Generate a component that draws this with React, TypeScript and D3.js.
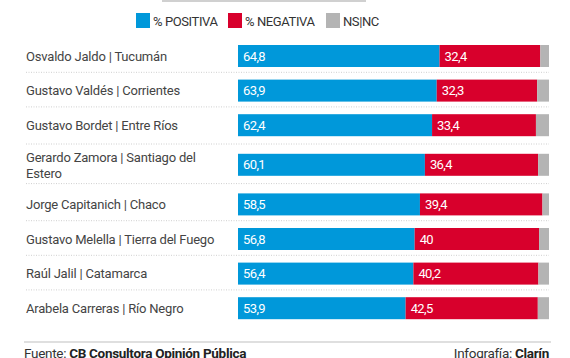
import React from "react";
import * as d3 from "d3";

const names = [
  ["Osvaldo Jaldo | Tucumán"],
  ["Gustavo Valdés | Corrientes"],
  ["Gustavo Bordet | Entre Ríos"],
  ["Gerardo Zamora | Santiago del", "Estero"],
  ["Jorge Capitanich | Chaco"],
  ["Gustavo Melella | Tierra del Fuego"],
  ["Raúl Jalil | Catamarca"],
  ["Arabela Carreras | Río Negro"],
];
const positiva = [64.8, 63.9, 62.4, 60.1, 58.5, 56.8, 56.4, 53.9];
const negativa = [32.4, 32.3, 33.4, 36.4, 39.4, 40, 40.2, 42.5];
const nsnc = [2.8, 3.8, 4.2, 3.5, 2.1, 3.2, 3.4, 3.6];
const legendLabels = ["% POSITIVA", "% NEGATIVA", "NS|NC"];

const BLUE = "#0098da";
const RED = "#d8002c";
const GRAY = "#b4b4b4";
const colors = [BLUE, RED, GRAY];
const FONT = "Roboto, 'Liberation Sans', sans-serif";

export default function App() {
  const W = 570, H = 358;
  const x = d3.scaleLinear().domain([0, 100]).range([238, 549]);
  const barH = 22;
  const tops: number[] = [];
  let y = 45;
  names.forEach((n, i) => {
    if (i > 0) {
      const extraPrev = names[i - 1].length > 1 ? 5 : 0;
      const extraCur = n.length > 1 ? 5 : 0;
      y += 34.6 + extraPrev + extraCur;
    }
    tops.push(y);
  });
  const fmt = (v: number) => String(v).replace(".", ",");
  const legendX = [136, 228, 326];
  return (
    <svg width={W} height={H} style={{ position: "absolute", left: 0, top: 0, background: "#fff" }} fontFamily={FONT}>
      <rect x={162} y={0} width={204} height={2} fill="#d0d0d0" />
      {legendLabels.map((l, i) => (
        <g key={l}>
          <rect x={legendX[i]} y={13} width={14} height={15} fill={colors[i]} />
          <text x={legendX[i] + 17} y={25.5} fontSize={13} fill="#333" letterSpacing={-0.4}>{l}</text>
        </g>
      ))}
      {names.map((n, i) => {
        const t = tops[i];
        const cy = t + barH / 2;
        const sepY = i < names.length - 1 ? (t + barH + tops[i + 1]) / 2 - 1 : null;
        const p0 = 0, p1 = positiva[i], n1 = positiva[i] + negativa[i], g1 = n1 + nsnc[i];
        return (
          <g key={i}>
            {n.length === 1 ? (
              <text x={26} y={cy + 4.5} fontSize={13} fill="#444" letterSpacing={-0.2}>{n[0]}</text>
            ) : (
              <>
                <text x={26} y={cy - 3} fontSize={13} fill="#444" letterSpacing={-0.2}>{n[0]}</text>
                <text x={26} y={cy + 13} fontSize={13} fill="#444" letterSpacing={-0.2}>{n[1]}</text>
              </>
            )}
            <rect x={x(p0)} y={t} width={x(p1) - x(p0)} height={barH} fill={BLUE} />
            <rect x={x(p1)} y={t} width={x(n1) - x(p1)} height={barH} fill={RED} />
            <rect x={x(n1)} y={t} width={x(g1) - x(n1)} height={barH} fill={GRAY} />
            <text x={x(p0) + 5} y={cy + 4.5} fontSize={13} fill="#fff" letterSpacing={-0.6}>{fmt(positiva[i])}</text>
            <text x={x(p1) + 5} y={cy + 4.5} fontSize={13} fill="#fff" letterSpacing={-0.6}>{fmt(negativa[i])}</text>
            {sepY !== null && (
              <line x1={26} x2={549} y1={sepY} y2={sepY} stroke="#cfcfcf" strokeWidth={1} strokeDasharray="1,1.5" />
            )}
          </g>
        );
      })}
      <line x1={24} x2={551} y1={342} y2={342} stroke="#d5d5d5" strokeWidth={1.5} />
      <text x={24} y={358} fontSize={13.5} fill="#333" letterSpacing={-0.3}>
        Fuente: <tspan fontWeight="bold" fill="#222">CB Consultora Opinión Pública</tspan>
      </text>
      <text x={549} y={358} fontSize={13.5} fill="#333" textAnchor="end" letterSpacing={-0.3}>
        Infografía: <tspan fontWeight="bold" fill="#222">Clarín</tspan>
      </text>
    </svg>
  );
}
